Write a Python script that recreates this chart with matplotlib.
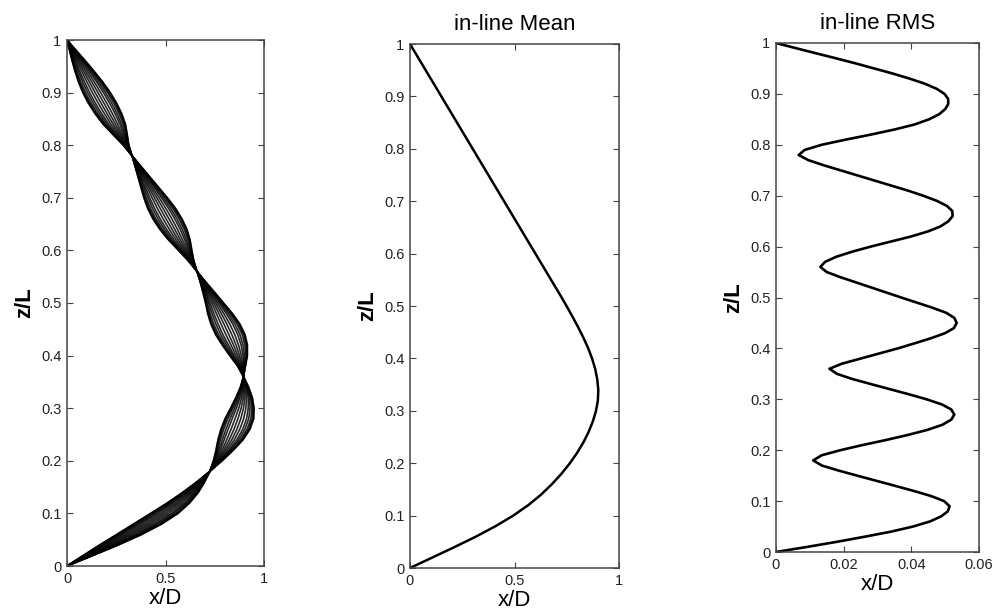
import numpy as np
import matplotlib
matplotlib.use("Agg")
import matplotlib.pyplot as plt
from matplotlib.ticker import FuncFormatter

plt.rcParams['font.family'] = ['Liberation Sans', 'DejaVu Sans']

# ---------------- data ----------------
# vertical coordinate for mean / snapshots (z/L)
z_grid = [0.00, 0.02, 0.04, 0.06, 0.08, 0.10, 0.12, 0.14, 0.16, 0.18,
          0.20, 0.22, 0.24, 0.26, 0.28, 0.30, 0.32, 0.34, 0.36, 0.38,
          0.40, 0.42, 0.44, 0.46, 0.48, 0.50, 0.52, 0.54, 0.56, 0.58,
          0.60, 0.62, 0.64, 0.66, 0.68, 0.70, 0.72, 0.74, 0.76, 0.78,
          0.80, 0.82, 0.84, 0.86, 0.88, 0.90, 0.92, 0.94, 0.96, 0.98, 1.00]

# in-line mean displacement x/D
mean_x = [0.000, 0.107, 0.213, 0.316, 0.410, 0.494, 0.566, 0.627, 0.679, 0.725,
          0.765, 0.800, 0.830, 0.855, 0.875, 0.890, 0.899, 0.901, 0.896, 0.886,
          0.871, 0.852, 0.829, 0.804, 0.777, 0.749, 0.720, 0.690, 0.660, 0.630,
          0.600, 0.570, 0.540, 0.510, 0.480, 0.450, 0.420, 0.390, 0.360, 0.330,
          0.300, 0.270, 0.240, 0.210, 0.180, 0.150, 0.120, 0.090, 0.060, 0.030, 0.000]

# signed half-width of the snapshot envelope (left panel)
envelope_x = [0.000, 0.025, 0.048, 0.064, 0.072, 0.070, 0.057, 0.040, 0.020, 0.000,
              -0.022, -0.044, -0.064, -0.074, -0.073, -0.060, -0.042, -0.021, 0.000, 0.020,
              0.045, 0.064, 0.075, 0.074, 0.063, 0.046, 0.030, 0.014, 0.000, -0.014,
              -0.034, -0.055, -0.069, -0.074, -0.071, -0.060, -0.045, -0.030, -0.015, 0.000,
              0.014, 0.036, 0.057, 0.068, 0.072, 0.070, 0.062, 0.049, 0.034, 0.017, 0.000]

# snapshot weights (time instants)
snapshot_weights = [-1.0, -0.97, -0.9, -0.8, -0.65, -0.5, -0.3, -0.1,
                    0.1, 0.3, 0.5, 0.65, 0.8, 0.9, 0.97, 1.0]

# in-line RMS
z_rms = [0.00, 0.01, 0.02, 0.03, 0.04, 0.05, 0.06, 0.07, 0.08, 0.09,
         0.10, 0.11, 0.12, 0.13, 0.14, 0.15, 0.16, 0.17, 0.18, 0.19,
         0.20, 0.21, 0.22, 0.23, 0.24, 0.25, 0.26, 0.27, 0.28, 0.29,
         0.30, 0.31, 0.32, 0.33, 0.34, 0.35, 0.36, 0.37, 0.38, 0.39,
         0.40, 0.41, 0.42, 0.43, 0.44, 0.45, 0.46, 0.47, 0.48, 0.49,
         0.50, 0.51, 0.52, 0.53, 0.54, 0.55, 0.56, 0.57, 0.58, 0.59,
         0.60, 0.61, 0.62, 0.63, 0.64, 0.65, 0.66, 0.67, 0.68, 0.69,
         0.70, 0.71, 0.72, 0.73, 0.74, 0.75, 0.76, 0.77, 0.78, 0.79,
         0.80, 0.81, 0.82, 0.83, 0.84, 0.85, 0.86, 0.87, 0.88, 0.89,
         0.90, 0.91, 0.92, 0.93, 0.94, 0.95, 0.96, 0.97, 0.98, 0.99, 1.00]
rms_x = [0.0000, 0.0092, 0.0180, 0.0262, 0.0340, 0.0405, 0.0455, 0.0488, 0.0508, 0.0513,
         0.0497, 0.0458, 0.0407, 0.0352, 0.0296, 0.0240, 0.0185, 0.0135, 0.0110, 0.0135,
         0.0190, 0.0255, 0.0325, 0.0390, 0.0448, 0.0492, 0.0518, 0.0527, 0.0518, 0.0490,
         0.0445, 0.0392, 0.0336, 0.0280, 0.0225, 0.0180, 0.0158, 0.0195, 0.0250, 0.0305,
         0.0360, 0.0410, 0.0458, 0.0500, 0.0526, 0.0534, 0.0527, 0.0503, 0.0462, 0.0416,
         0.0370, 0.0325, 0.0280, 0.0235, 0.0190, 0.0150, 0.0131, 0.0145, 0.0178, 0.0225,
         0.0280, 0.0340, 0.0400, 0.0450, 0.0487, 0.0510, 0.0522, 0.0521, 0.0505, 0.0475,
         0.0435, 0.0390, 0.0340, 0.0290, 0.0240, 0.0190, 0.0140, 0.0095, 0.0067, 0.0085,
         0.0135, 0.0205, 0.0280, 0.0350, 0.0410, 0.0452, 0.0482, 0.0500, 0.0509, 0.0509,
         0.0498, 0.0475, 0.0440, 0.0395, 0.0345, 0.0290, 0.0235, 0.0177, 0.0117, 0.0058, 0.0000]

titles = ["", "in-line Mean", "in-line RMS"]
x_ticks_disp = [0, 0.5, 1]
x_ticks_rms = [0, 0.02, 0.04, 0.06]
y_ticks = [0, 0.1, 0.2, 0.3, 0.4, 0.5, 0.6, 0.7, 0.8, 0.9, 1.0]

# ---------------- figure ----------------
W, H = 993, 611
fig = plt.figure(figsize=(W / 100, H / 100), dpi=100)
fig.patch.set_facecolor('white')

def rect(l, r, t, b):
    return [l / W, 1 - b / H, (r - l) / W, (b - t) / H]

ax1 = fig.add_axes(rect(67, 264, 40, 566))
ax2 = fig.add_axes(rect(410, 619, 44, 568))
ax3 = fig.add_axes(rect(776, 979, 43, 552))

fmt = FuncFormatter(lambda v, p: ('%g' % round(v, 4)))

z_arr = np.array(z_grid)
m_arr = np.array(mean_x)
e_arr = np.array(envelope_x)
for w in snapshot_weights:
    ax1.plot(m_arr + w * e_arr, z_arr, color='black', lw=1.2, alpha=0.85)

ax2.plot(mean_x, z_grid, color='black', lw=1.8)
ax3.plot(rms_x, z_rms, color='black', lw=1.9)

for ax, ttl, xt, xmax in [(ax1, titles[0], x_ticks_disp, 1.0),
                           (ax2, titles[1], x_ticks_disp, 1.0),
                           (ax3, titles[2], x_ticks_rms, 0.06)]:
    ax.set_xlim(0, xmax)
    ax.set_ylim(0, 1)
    ax.set_xticks(xt)
    ax.set_yticks(y_ticks)
    ax.xaxis.set_major_formatter(fmt)
    ax.yaxis.set_major_formatter(fmt)
    ax.tick_params(direction='in', top=True, right=True, length=4, width=0.8,
                   labelsize=10.5, labelcolor='#222222', color='#444444', pad=4)
    for s in ax.spines.values():
        s.set_color('#444444')
        s.set_linewidth(1.1)
    ax.set_xlabel('x/D', fontsize=16, labelpad=2)
    ax.set_ylabel('z/L', fontsize=16, fontweight='bold', labelpad=4)
    if ttl:
        ax.set_title(ttl, fontsize=16, pad=10)

fig.savefig('out.png', dpi=100, facecolor='white')
